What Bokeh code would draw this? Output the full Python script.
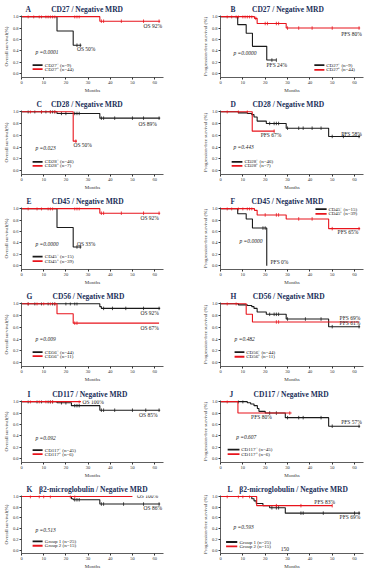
import numpy as np
from bokeh.plotting import figure
from bokeh.layouts import gridplot
from bokeh.models import Range1d, FixedTicker, NumeralTickFormatter
from bokeh.core.properties import value
from bokeh.embed import file_html
from bokeh.resources import INLINE

BLACK = "#1a1a1a"
RED = "#e8141c"
NAVY = "#22305a"
FONT = "Liberation Serif"

x_ticks = [0, 10, 20, 30, 40, 50, 60]
y_ticks = [0.0, 0.2, 0.4, 0.6, 0.8, 1.0]

# ---------------- data (months, survival fraction) ----------------
# A: CD27 / OS
A_neg_t = [16.0, 23.3]; A_neg_s = [0.75, 0.50]; A_neg_end = 27.0; A_neg_c = [25.0, 26.5]
A_pos_t = [35.3]; A_pos_s = [0.92]; A_pos_end = 62.5
A_pos_c = [3, 5.5, 8, 9, 11, 12, 13, 14, 15, 24, 25, 26, 36, 37, 45, 55, 62]
# B: CD27 / PFS
B_neg_t = [7.7, 11.5, 14.3, 20.7]; B_neg_s = [0.86, 0.71, 0.48, 0.24]; B_neg_end = 25.0; B_neg_c = [23.0, 25.0]
B_pos_t = [15.2, 16.4, 29.4]; B_pos_s = [0.97, 0.88, 0.80]; B_pos_end = 62.5
B_pos_c = [3, 5, 7, 8, 10, 11, 12, 13, 14, 15.8, 20, 21, 25, 26, 30, 35, 41, 50, 62]
# C: CD28 / OS
C_neg_t = [16.0, 35.3]; C_neg_s = [0.97, 0.89]; C_neg_end = 62.5
C_neg_c = [3, 6, 9, 11, 13, 14, 15, 18, 20, 24, 25, 26, 36, 37, 42, 50, 55, 62]
C_pos_t = [23.3]; C_pos_s = [0.50]; C_pos_end = 25.0; C_pos_c = [4, 9, 13, 15, 24.5]
# D: CD28 / PFS
D_neg_t = [8, 12, 14, 15, 16.4, 20.5, 29.4, 48.4]
D_neg_s = [0.98, 0.97, 0.95, 0.91, 0.84, 0.80, 0.72, 0.58]; D_neg_end = 62.5
D_neg_c = [22, 24, 25, 26, 30, 35, 37, 41, 45, 50, 55, 62]
D_pos_t = [14.2]; D_pos_s = [0.67]; D_pos_end = 24.2; D_pos_c = [3, 8, 12, 24]
# E: CD45 / OS
E_neg_t = [16.0, 23.3]; E_neg_s = [0.67, 0.33]; E_neg_end = 27.0; E_neg_c = [25.0, 26.5]
E_pos_t = [35.3]; E_pos_s = [0.92]; E_pos_end = 62.5
E_pos_c = [3, 7, 9, 12, 13, 14, 24, 25, 26, 36, 37, 45, 55, 62]
# F: CD45 / PFS
F_neg_t = [7.7, 11.5, 14.3, 20.7]; F_neg_s = [0.91, 0.82, 0.66, 0.0]; F_neg_end = 20.7; F_neg_c = [19.0, 20.0]
F_pos_t = [15.2, 16.4, 29.4, 48.4]; F_pos_s = [0.97, 0.89, 0.82, 0.65]; F_pos_end = 62.5
F_pos_c = [3, 5, 8, 10, 12, 13, 14, 20, 25, 26, 35, 41, 50, 62]
# G: CD56 / OS
G_neg_t = [35.3, 36.0]; G_neg_s = [0.95, 0.92]; G_neg_end = 62.5
G_neg_c = [3, 6, 9, 12, 14, 15, 20, 22, 24, 25, 37, 41, 47, 55, 62]
G_pos_t = [16.0, 23.3]; G_pos_s = [0.83, 0.67]; G_pos_end = 62.0; G_pos_c = [3, 7, 10, 13, 15, 24, 25]
# H: CD56 / PFS
H_neg_t = [8, 12, 14, 15, 16.4, 20.5, 29.4, 48.4]
H_neg_s = [0.98, 0.97, 0.95, 0.92, 0.86, 0.82, 0.74, 0.61]; H_neg_end = 62.5
H_neg_c = [22, 24, 25, 26, 30, 38, 45, 50, 62]
H_pos_t = [11.5, 14.3]; H_pos_s = [0.82, 0.69]; H_pos_end = 62.0; H_pos_c = [3, 7, 25, 26]
# I: CD117 / OS
I_neg_t = [16.0, 22.5, 35.3]; I_neg_s = [0.98, 0.93, 0.85]; I_neg_end = 62.5
I_neg_c = [3, 7, 9, 12, 13, 14, 18, 20, 24, 25, 26, 36, 37, 42, 50, 56, 62]
I_pos_t = []; I_pos_s = []; I_pos_end = 26.8; I_pos_c = [4, 8, 11, 13, 14, 26]
# J: CD117 / PFS
J_neg_t = [12, 13.5, 15, 16.5, 17.2, 20, 29, 48.4]
J_neg_s = [0.98, 0.96, 0.93, 0.88, 0.83, 0.80, 0.72, 0.57]; J_neg_end = 62.5
J_neg_c = [8, 10, 22, 25, 30, 35, 37, 45, 50, 62]
J_pos_t = [7.8]; J_pos_s = [0.80]; J_pos_end = 31.8; J_pos_c = [3, 31]
# K: beta2-microglobulin / OS
K_g1_t = [22.5, 23.3, 35.3]; K_g1_s = [0.96, 0.94, 0.86]; K_g1_end = 62.5
K_g1_c = [24, 25, 26, 36, 37, 46, 55, 62]
K_g2_t = []; K_g2_s = []; K_g2_end = 50.0; K_g2_c = [4, 8, 10, 13, 22, 24]
# L: beta2-microglobulin / PFS
L_g1_t = [14, 15, 16, 19, 22, 29]; L_g1_s = [0.96, 0.92, 0.87, 0.83, 0.79, 0.69]; L_g1_end = 62.5
L_g1_c = [23, 25, 26, 36, 37, 46, 60, 62]
L_g2_t = [16.2]; L_g2_s = [0.83]; L_g2_end = 50.0; L_g2_c = [3, 8, 10, 13, 25, 36, 50]

titles = ["CD27 / Negative MRD", "CD28 / Negative MRD", "CD45 / Negative MRD",
          "CD56 / Negative MRD", "CD117 / Negative MRD", "β2-microglobulin / Negative MRD"]
p_values = ["p =0.0001", "p =0.0000", "p =0.023", "p =0.443", "p =0.0000", "p =0.0000",
            "p =0.009", "p =0.482", "p =0.092", "p =0.607", "p =0.513", "p =0.593"]

ROW_H = [95, 97, 95, 98, 95, 91]
EM, EN, THIN = "\u2003", "\u2002", "\u2009"


def level_at(t, times, surv):
    s = 1.0
    for ti, si in zip(times, surv):
        if t >= ti:
            s = si
    return s


def km(p, times, surv, end, cens, color):
    xs = [0.0] + list(times) + [end]
    ys = [1.0] + list(surv) + [surv[-1] if surv else 1.0]
    p.step(xs, ys, mode="after", line_color=color, line_width=1.1)
    cy = [level_at(t, times, surv) for t in cens]
    p.scatter(cens, cy, marker="dash", angle=np.pi / 2, size=3.5,
              line_color=color, line_width=0.8)


def txt(p, x, y, s, size="5.5px", style="normal", color=BLACK, align="left"):
    p.text([x], [y], text=[s], text_font=value(FONT), text_font_size=size,
           text_font_style=style, text_color=color, text_align=align,
           text_baseline="middle")


def panel(row, left, letter, gap, title, title_off, ylabel, curves, labels,
          leg, pval, pval_pos, notes):
    h = ROW_H[row]
    top = 13
    frame_h = 66 if h >= 95 else 63
    p = figure(width=184, height=h, x_range=Range1d(0, 64), y_range=Range1d(-0.065, 1.02),
               output_backend="svg", toolbar_location=None,
               min_border_left=21 if left else 36, min_border_right=21 if left else 5,
               min_border_top=top, min_border_bottom=h - top - frame_h)
    p.outline_line_color = None
    p.grid.visible = False
    for ax in (p.xaxis[0], p.yaxis[0]):
        ax.axis_line_color = "#333333"
        ax.axis_line_width = 0.8
        ax.major_tick_line_color = "#333333"
        ax.major_tick_out = 2
        ax.major_tick_in = 0
        ax.minor_tick_line_color = None
        ax.major_label_text_font = FONT
        ax.major_label_text_font_size = "4.5px"
        ax.major_label_text_color = "#333333"
        ax.major_label_standoff = 1
        ax.axis_label_text_font = FONT
        ax.axis_label_text_font_size = "5px"
        ax.axis_label_text_font_style = "normal"
        ax.axis_label_text_color = "#333333"
        ax.axis_label_standoff = 1
    p.xaxis.ticker = FixedTicker(ticks=x_ticks)
    p.yaxis.ticker = FixedTicker(ticks=y_ticks)
    p.yaxis.formatter = NumeralTickFormatter(format="0.0")
    p.xaxis.axis_label = "Months"
    p.yaxis.axis_label = ylabel

    for (t, s, end, c, color) in curves:
        km(p, t, s, end, c, color)

    x0, x1, xt, y1, y2 = leg
    for (lab, yy, color) in ((labels[0], y1, BLACK), (labels[1], y2, RED)):
        p.segment([x0], [yy], [x1], [yy], line_color=color, line_width=1.8)
        txt(p, xt, yy, lab, size="5px")

    txt(p, pval_pos[0], pval_pos[1], pval, size="5.5px", style="italic")
    for (s, x, y) in notes:
        txt(p, x, y, s, size="5.5px")

    p.title.text = letter + gap + title
    p.title.text_font = FONT
    p.title.text_font_size = "7.5px"
    p.title.text_font_style = "bold"
    p.title.text_color = NAVY
    p.title.align = "left"
    p.title.offset = title_off
    p.title.standoff = 4
    return p


OS = "Overall survival(%)"
PFS = "Progression-free survival (%)"
G20 = EM + EM + EN + THIN
G16 = EM + EM + THIN
G8 = EM + THIN
G6 = EN + THIN + THIN

pA = panel(0, True, "A", G20, titles[0], 4, OS,
           [(A_neg_t, A_neg_s, A_neg_end, A_neg_c, BLACK), (A_pos_t, A_pos_s, A_pos_end, A_pos_c, RED)],
           ["CD27⁻ (n=9)", "CD27⁺ (n=44)"], (5, 9.5, 10.5, 0.15, 0.08),
           p_values[0], (6.3, 0.38), [("OS 50%", 25, 0.43), ("OS 92%", 55, 0.84)])
pB = panel(0, False, "B", G16, titles[0], 10, PFS,
           [(B_neg_t, B_neg_s, B_neg_end, B_neg_c, BLACK), (B_pos_t, B_pos_s, B_pos_end, B_pos_c, RED)],
           ["CD27⁻ (n=9)", "CD27⁺ (n=44)"], (42, 46.5, 47.3, 0.15, 0.07),
           p_values[1], (5.8, 0.36), [("PFS 24%", 20.6, 0.15), ("PFS 80%", 54, 0.70)])
pC = panel(1, True, "C", G8, titles[1], 15, OS,
           [(C_neg_t, C_neg_s, C_neg_end, C_neg_c, BLACK), (C_pos_t, C_pos_s, C_pos_end, C_pos_c, RED)],
           ["CD28⁻ (n=46)", "CD28⁺ (n=7)"], (5, 9.5, 10.5, 0.15, 0.08),
           p_values[2], (6.3, 0.38), [("OS 89%", 52.7, 0.79), ("OS 50%", 23.4, 0.43)])
pD = panel(1, False, "D", G16, titles[1], 10, PFS,
           [(D_neg_t, D_neg_s, D_neg_end, D_neg_c, BLACK), (D_pos_t, D_pos_s, D_pos_end, D_pos_c, RED)],
           ["CD28⁻ (n=46)", "CD28⁺ (n=7)"], (5, 9.8, 10.7, 0.15, 0.08),
           p_values[3], (5.8, 0.40), [("PFS 67%", 18, 0.61), ("PFS 58%", 54, 0.625)])
pE = panel(2, True, "E", G20, titles[2], 5, OS,
           [(E_neg_t, E_neg_s, E_neg_end, E_neg_c, BLACK), (E_pos_t, E_pos_s, E_pos_end, E_pos_c, RED)],
           ["CD45⁻ (n=15)", "CD45⁺ (n=39)"], (5, 9.5, 10.5, 0.16, 0.08),
           p_values[4], (6.3, 0.39), [("OS 33%", 25, 0.39), ("OS 92%", 53.6, 0.83)])
pF = panel(2, False, "F", G16, titles[2], 10, PFS,
           [(F_neg_t, F_neg_s, F_neg_end, F_neg_c, BLACK), (F_pos_t, F_pos_s, F_pos_end, F_pos_c, RED)],
           ["CD45⁻ (n=15)", "CD45⁺ (n=39)"], (42.5, 47.5, 48.3, 0.99, 0.91),
           p_values[5], (8.5, 0.44), [("PFS 0%", 22.4, 0.06), ("PFS 65%", 52.4, 0.59)])
pG = panel(3, True, "G", G20, titles[3], 5, OS,
           [(G_neg_t, G_neg_s, G_neg_end, G_neg_c, BLACK), (G_pos_t, G_pos_s, G_pos_end, G_pos_c, RED)],
           ["CD56⁻ (n=44)", "CD56⁺ (n=11)"], (5, 9.5, 10.5, 0.18, 0.11),
           p_values[6], (6.3, 0.40), [("OS 92%", 53.6, 0.85), ("OS 67%", 53.6, 0.58)])
pH = panel(3, False, "H", G16, titles[3], 10, PFS,
           [(H_neg_t, H_neg_s, H_neg_end, H_neg_c, BLACK), (H_pos_t, H_pos_s, H_pos_end, H_pos_c, RED)],
           ["CD56⁻ (n=44)", "CD56⁺ (n=11)"], (6.3, 10.7, 11.5, 0.18, 0.10),
           p_values[7], (6.3, 0.40), [("PFS 69%", 53.3, 0.76), ("PFS 61%", 53.3, 0.67)])
pI = panel(4, True, "I", G20 + THIN, titles[4], 6, OS,
           [(I_neg_t, I_neg_s, I_neg_end, I_neg_c, BLACK), (I_pos_t, I_pos_s, I_pos_end, I_pos_c, RED)],
           ["CD117⁻ (n=45)", "CD117⁺ (n=6)"], (5, 9.5, 10.5, 0.15, 0.08),
           p_values[8], (6.3, 0.37), [("OS 100%", 27.5, 1.0), ("OS 85%", 53, 0.76)])
pJ = panel(4, False, "J", G20, titles[4], 9, PFS,
           [(J_neg_t, J_neg_s, J_neg_end, J_neg_c, BLACK), (J_pos_t, J_pos_s, J_pos_end, J_pos_c, RED)],
           ["CD117⁻ (n=45)", "CD117⁺ (n=6)"], (3.2, 8.5, 9.3, 0.16, 0.08),
           p_values[9], (7, 0.38), [("PFS 80%", 13.7, 0.74), ("PFS 57%", 54, 0.65)])
pK = panel(5, True, "K", G6, titles[5], 5, OS,
           [(K_g1_t, K_g1_s, K_g1_end, K_g1_c, BLACK), (K_g2_t, K_g2_s, K_g2_end, K_g2_c, RED)],
           ["Group 1 (n=25)", "Group 2 (n=15)"], (5, 9.5, 10.5, 0.16, 0.08),
           p_values[10], (6.3, 0.38), [("OS 100%", 52, 1.01), ("OS 86%", 55, 0.78)])
pL = panel(5, False, "L", G6, titles[5], 7, PFS,
           [(L_g1_t, L_g1_s, L_g1_end, L_g1_c, BLACK), (L_g2_t, L_g2_s, L_g2_end, L_g2_c, RED)],
           ["Group 1 (n=25)", "Group 2 (n=15)"], (2.5, 7.5, 8.5, 0.15, 0.07),
           p_values[11], (5.8, 0.44), [("PFS 83%", 42, 0.90), ("PFS 69%", 53.3, 0.62), ("150", 27, 0.02)])

grid = gridplot([[pA, pB], [pC, pD], [pE, pF], [pG, pH], [pI, pJ], [pK, pL]],
                toolbar_location=None)

open("out.html", "w").write(file_html(grid, INLINE))
